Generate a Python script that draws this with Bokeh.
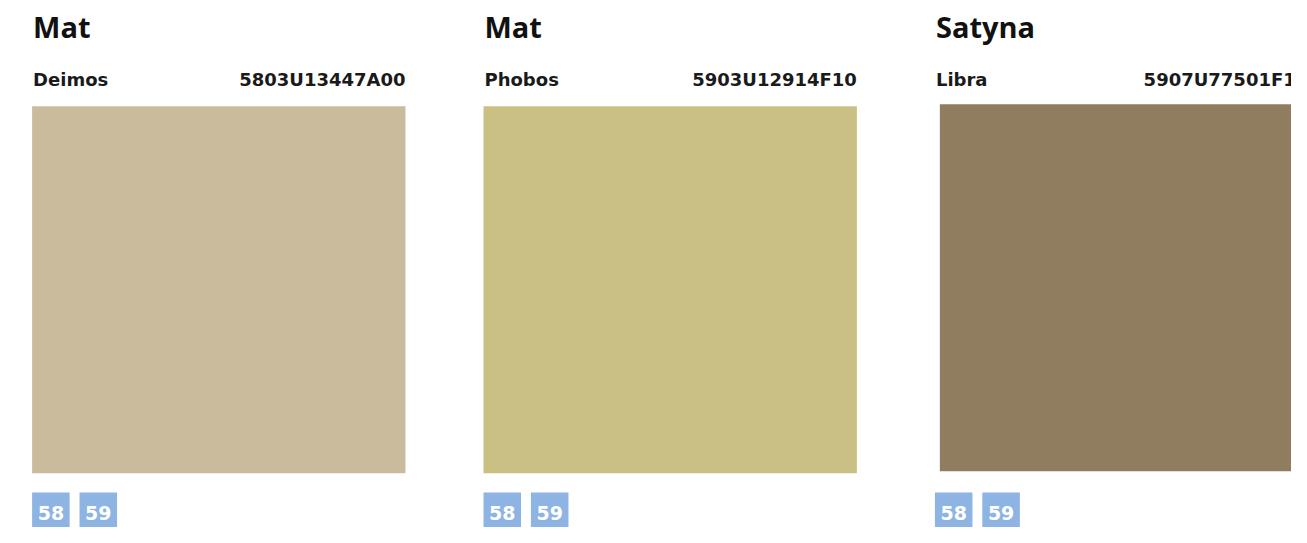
from bokeh.plotting import figure
from bokeh.models import Range1d, ColumnDataSource
from bokeh.core.properties import value
from bokeh.embed import file_html
from bokeh.resources import INLINE

# ---- data ----
finishes = ["Mat", "Mat", "Satyna"]
names = ["Deimos", "Phobos", "Libra"]
codes = ["5803U13447A00", "5903U12914F10", "5907U77501F10"]
colors = ["#CBBB9D", "#CBC084", "#907D60"]
pages = ["58", "59"]

# ---- layout (reference pixel space) ----
W, H = 1307, 543
M = 8
col_x = [32, 489, 946]
sw_dx = [0, 0, 5]
sw_dy = [0, 0, -2]
SW = 378

p = figure(width=W - 2 * M, height=H - 2 * M, output_backend="svg",
           toolbar_location=None, x_range=Range1d(0, W),
           y_range=Range1d(H, 0), min_border=0)
p.axis.visible = False
p.grid.visible = False
p.outline_line_color = None
p.background_fill_color = "white"
p.border_fill_color = "white"

sw = ColumnDataSource(dict(
    left=[x + dx for x, dx in zip(col_x, sw_dx)],
    right=[x + dx + SW for x, dx in zip(col_x, sw_dx)],
    top=[109 + dy for dy in sw_dy],
    bottom=[109 + SW + dy for dy in sw_dy],
    color=colors))
p.quad(left="left", right="right", top="top", bottom="bottom",
       fill_color="color", line_color=None, source=sw)

tfont = value("Open Sans")
sfont = value("DejaVu Sans")
p.text(x=[x + 1 for x in col_x], y=[26.5] * 3, text=finishes, text_font=tfont,
       text_font_size="29px", text_font_style="bold", text_color="#111111",
       text_baseline="alphabetic", text_align="left")
p.text(x=[x + 1 for x in col_x], y=[81.5] * 3, text=names, text_font=sfont,
       text_font_size="18px", text_font_style="bold", text_color="#1a1a1a",
       text_baseline="alphabetic", text_align="left")
p.text(x=[x + SW for x in col_x], y=[81.5] * 3, text=codes, text_font=sfont,
       text_font_size="18px", text_font_style="bold", text_color="#1a1a1a",
       text_baseline="alphabetic", text_align="right")

bl, br, bt, bb, bx, btxt = [], [], [], [], [], []
for x in col_x:
    for i, pg in enumerate(pages):
        l = x + i * 48
        bl.append(l); br.append(l + 38); bt.append(507); bb.append(H)
        bx.append(l + 19); btxt.append(pg)
p.quad(left=bl, right=br, top=bt, bottom=bb, fill_color="#8DB4E2", line_color=None)
p.text(x=bx, y=[528] * len(bx), text=btxt, text_font=sfont, text_font_size="19px",
       text_font_style="bold", text_color="white", text_align="center",
       text_baseline="alphabetic")

open("out.html", "w").write(file_html(p, INLINE))
